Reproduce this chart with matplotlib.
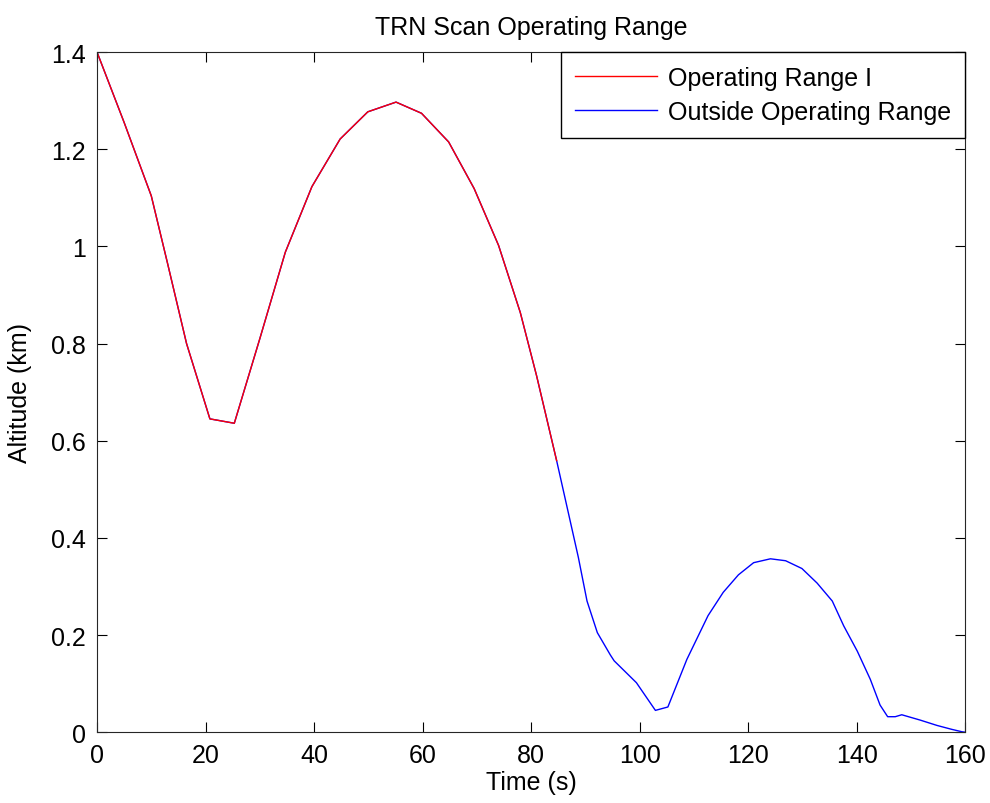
import matplotlib.pyplot as plt

plt.rcParams['font.family'] = ['Liberation Sans', 'DejaVu Sans']

# time (s) and altitude (km)
time = [0, 5, 10, 13, 16.5, 20.8, 25.3, 30, 34.7, 39.6, 44.8, 49.9, 55.1, 59.8,
        64.8, 69.5, 74.0, 78.0, 81.0, 84.7, 88.7, 90.3, 92.2, 94.6, 95.3, 99.4,
        102.9, 105.2, 108.7, 112.6, 115.4, 118.2, 121.0, 124.1, 126.9, 129.9,
        132.7, 135.5, 137.6, 140.1, 142.5, 144.3, 145.7, 147.1, 148.3, 151.7,
        154.8, 157.5, 159.4, 160]
altitude = [1.40, 1.255, 1.104, 0.965, 0.80, 0.645, 0.636, 0.81, 0.988, 1.123,
            1.221, 1.277, 1.297, 1.274, 1.215, 1.119, 1.002, 0.864, 0.734, 0.559,
            0.36, 0.270, 0.205, 0.159, 0.147, 0.102, 0.045, 0.052, 0.150, 0.240,
            0.288, 0.324, 0.349, 0.357, 0.353, 0.337, 0.307, 0.270, 0.219, 0.167,
            0.109, 0.056, 0.032, 0.032, 0.036, 0.025, 0.014, 0.006, 0.001, 0.0]

range_end = 84.7  # end of operating range I

op_t = [t for t in time if t <= range_end]
op_a = altitude[:len(op_t)]

fig = plt.figure(figsize=(9.9, 8.04), dpi=100)
ax = fig.add_axes([0.098, 0.088, 0.877, 0.846])

ax.plot(time, altitude, color='blue', linewidth=1, label='Outside Operating Range')
ax.plot(op_t, op_a, color='red', linewidth=1, label='Operating Range I')

ax.set_xlim(0, 160)
ax.set_ylim(0, 1.4)
ax.set_xticks(range(0, 161, 20))
ax.set_yticks([0, 0.2, 0.4, 0.6, 0.8, 1, 1.2, 1.4])
ax.set_yticklabels(['0', '0.2', '0.4', '0.6', '0.8', '1', '1.2', '1.4'])
ax.tick_params(direction='in', length=7, labelsize=18, top=True, right=True, pad=8)
for s in ax.spines.values():
    s.set_color('#262626')

ax.set_title('TRN Scan Operating Range', fontsize=18, pad=13)
ax.set_xlabel('Time (s)', fontsize=18, labelpad=2)
ax.set_ylabel('Altitude (km)', fontsize=18, labelpad=14)

handles, labels = ax.get_legend_handles_labels()
leg = ax.legend(handles[::-1], labels[::-1], loc='upper right', fontsize=18,
                fancybox=False, framealpha=1, edgecolor='black',
                borderaxespad=0, handlelength=3.3, handletextpad=0.45,
                labelspacing=0.4, borderpad=0.55)
leg.get_frame().set_linewidth(1)

plt.savefig('out.png', dpi=100)
